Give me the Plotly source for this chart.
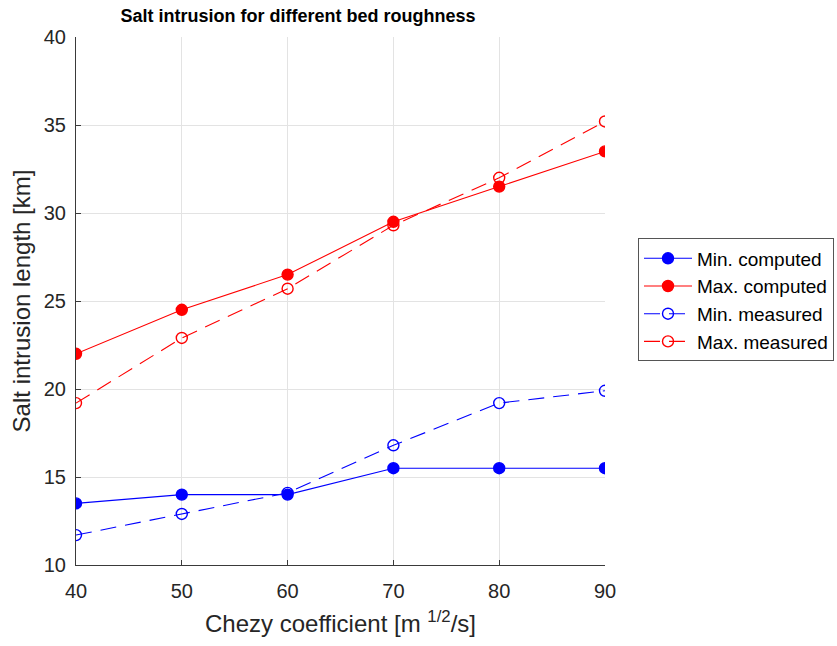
import plotly.graph_objects as go

chezy = [40, 50, 60, 70, 80, 90]
min_computed = [13.5, 14.0, 14.0, 15.5, 15.5, 15.5]
max_computed = [22.0, 24.5, 26.5, 29.5, 31.5, 33.5]
min_measured = [11.7, 12.9, 14.1, 16.8, 19.2, 19.9]
max_measured = [19.2, 22.9, 25.7, 29.3, 32.0, 35.2]

BLUE = "#0000ff"
RED = "#ff0000"
FONT = "Liberation Sans, Arial, sans-serif"

fig = go.Figure()
series = [
    ("Min. computed", min_computed, BLUE, "solid", "circle"),
    ("Max. computed", max_computed, RED, "solid", "circle"),
    ("Min. measured", min_measured, BLUE, "16px,9px", "circle-open"),
    ("Max. measured", max_measured, RED, "16px,9px", "circle-open"),
]
for name, ys, col, dash, sym in series:
    fig.add_trace(go.Scatter(
        x=chezy, y=ys, name=name, mode="lines+markers",
        line=dict(color=col, width=1.1, dash=dash),
        marker=dict(symbol=sym, size=11, color=col,
                    line=dict(color=col, width=1.4)),
    ))

axis_common = dict(
    showgrid=True, gridcolor="#e3e3e3", gridwidth=1,
    showline=True, linecolor="#3a3a3a", linewidth=1.2,
    ticks="inside", ticklen=5, tickcolor="#3a3a3a",
    tickfont=dict(family=FONT, size=20, color="#262626"),
    zeroline=False, mirror=False,
)

fig.update_layout(
    width=837, height=646,
    margin=dict(l=76, r=232, t=37, b=81, autoexpand=False),
    paper_bgcolor="white", plot_bgcolor="white",
    title=dict(text="<b>Salt intrusion for different bed roughness</b>",
               x=298 / 837, xanchor="center", y=1 - 16 / 646, yanchor="middle",
               font=dict(family=FONT, size=18, color="black")),
    xaxis=dict(range=[40, 90], dtick=10, ticklabelstandoff=8,
               title=dict(text="Chezy coefficient [m <sup>1/2</sup>/s]", standoff=14,
                          font=dict(family=FONT, size=24, color="#262626")),
               **axis_common),
    yaxis=dict(range=[10, 40], dtick=5, ticklabelstandoff=5,
               title=dict(text="Salt intrusion length [km]", standoff=6,
                          font=dict(family=FONT, size=24, color="#262626")),
               **axis_common),
    legend=dict(x=(638 - 76) / 529, xanchor="left", y=0.502, yanchor="middle",
                bgcolor="white", bordercolor="#555555", borderwidth=1,
                font=dict(family=FONT, size=19, color="black"),
                tracegroupgap=0, itemwidth=48),
    showlegend=True,
)

fig.write_html("out.html")
